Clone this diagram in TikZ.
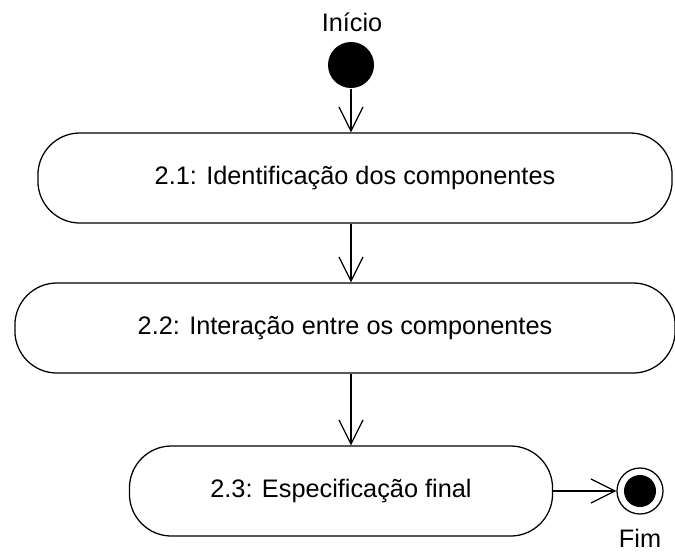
\documentclass[tikz,border=0pt]{standalone}
\usepackage{fontspec}
\setmainfont{Liberation Sans}
\usetikzlibrary{arrows.meta}

\begin{document}
\begin{tikzpicture}[x=0.025cm,y=-0.025cm,line width=0.9pt,
  atividade/.style={draw,rounded corners=1.05cm,minimum height=2.25cm,inner sep=0pt,font=\fontsize{18}{21}\selectfont},
  fluxo/.style={-{Straight Barb[length=0.6cm,width=0.6cm]}},
  rotulo/.style={font=\fontsize{18}{21}\selectfont,inner sep=1pt}]
\useasboundingbox (0,0) rectangle (675,554);

%---------------------------------------------------------------------------------------- INICIO
\node[rotulo] (txtinicio) at (352,22) {Início};
\node[circle,fill=black,minimum size=1.15cm,inner sep=0pt] (inicio) at (351,65) {};

%---------------------------------------------------------------------------------------- ATIVIDADES
\node[atividade,minimum width=15.85cm] (ident) at (355,178) {2.1: Identificação dos componentes};
\node[atividade,minimum width=16.5cm] (inter) at (345,328) {2.2: Interação entre os componentes};
\node[atividade,minimum width=10.575cm] (espec) at (341,491) {2.3: Especificação final};

%---------------------------------------------------------------------------------------- FIM
\node[circle,draw,minimum size=1.15cm,inner sep=0pt] (fim) at (640,491) {};
\node[circle,fill=black,minimum size=0.8cm,inner sep=0pt] (fimin) at (fim) {};
\node[rotulo] (txtfim) at (640,538) {Fim};

%---------------------------------------------------------------------------------------- FLUXOS
\draw[fluxo] (inicio) -- (inicio |- ident.north);
\draw[fluxo] (inicio |- ident.south) -- (inicio |- inter.north);
\draw[fluxo] (inicio |- inter.south) -- (inicio |- espec.north);
\draw[fluxo] (espec) -- (fim);

\end{tikzpicture}
\end{document}
